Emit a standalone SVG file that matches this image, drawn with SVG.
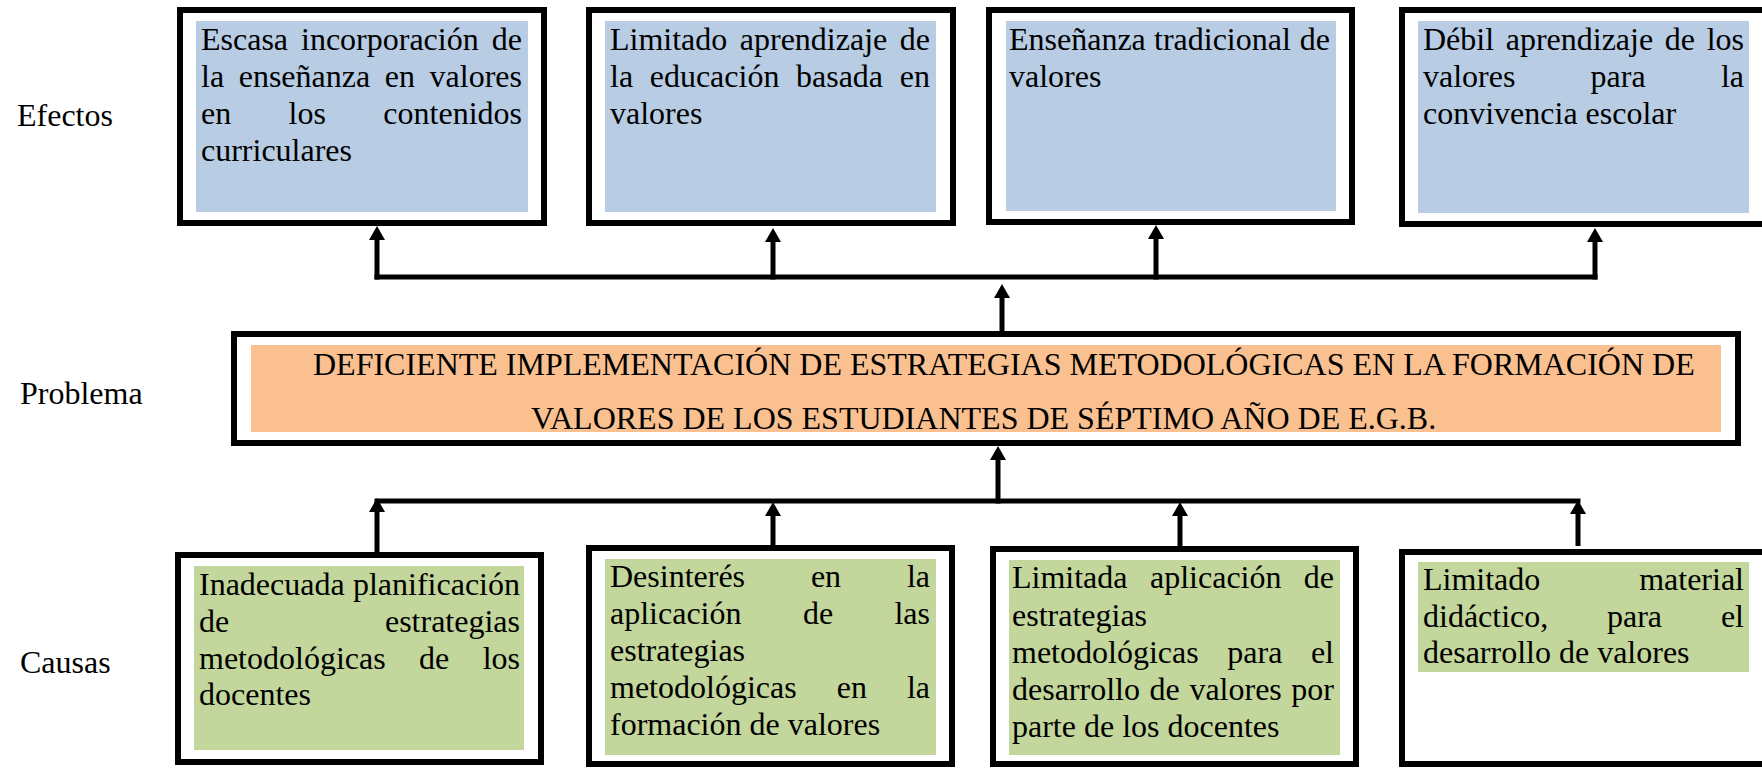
<svg xmlns="http://www.w3.org/2000/svg" width="1762" height="768" viewBox="0 0 1762 768">
<style>
text{font-family:"Liberation Serif","Times New Roman",serif;font-size:32px;fill:#000}
.e{text-anchor:end}
.box{fill:#fff;stroke:#000;stroke-width:6}
.blue{fill:#B8CCE4}
.orange{fill:#FAC090}
.green{fill:#C3D69B}
.con{fill:none;stroke:#000;stroke-width:5}
</style>
<defs>
<marker id="ah" markerUnits="userSpaceOnUse" markerWidth="14" markerHeight="16" viewBox="0 0 14 16" refX="0" refY="8" orient="auto">
<path d="M0,0 L14,8 L0,16 Z" fill="#000"/>
</marker>
</defs>
<rect width="1762" height="768" fill="#fff"/>

<g id="labels">
<text x="17" y="126">Efectos</text>
<text x="20" y="404">Problema</text>
<text x="20" y="673">Causas</text>
</g>

<g id="connectors">
<path class="con" d="M374.5,277 H1597.5"/>
<path class="con" d="M377,279.5 V240" marker-end="url(#ah)"/>
<path class="con" d="M773,279.5 V242" marker-end="url(#ah)"/>
<path class="con" d="M1156,279.5 V239" marker-end="url(#ah)"/>
<path class="con" d="M1595,279.5 V242" marker-end="url(#ah)"/>
<path class="con" d="M1002,331 V298" marker-end="url(#ah)"/>
<path class="con" d="M374.5,501 H1580.5"/>
<path class="con" d="M998,503.5 V460" marker-end="url(#ah)"/>
<path class="con" d="M377,552 V512" marker-end="url(#ah)"/>
<path class="con" d="M773,545 V516" marker-end="url(#ah)"/>
<path class="con" d="M1180,546 V516" marker-end="url(#ah)"/>
<path class="con" d="M1578,546 V514" marker-end="url(#ah)"/>
</g>

<g id="effect1">
<rect class="box" x="180" y="10" width="364" height="213"/>
<rect class="blue" x="196" y="21" width="332" height="191"/>
<text y="50"><tspan x="201">Escasa</tspan><tspan x="301">incorporación</tspan></text><text class="e" x="522" y="50">de</text>
<text y="87"><tspan x="201">la</tspan><tspan x="238.7">enseñanza</tspan><tspan x="384.8">en</tspan></text><text class="e" x="522" y="87">valores</text>
<text y="124"><tspan x="201">en</tspan><tspan x="288.6">los</tspan></text><text class="e" x="522" y="124">contenidos</text>
<text x="201" y="161">curriculares</text>
</g>

<g id="effect2">
<rect class="box" x="589" y="10" width="364" height="213"/>
<rect class="blue" x="605" y="21" width="331" height="191"/>
<text y="50"><tspan x="610">Limitado</tspan><tspan x="739.8">aprendizaje</tspan></text><text class="e" x="930" y="50">de</text>
<text y="87"><tspan x="610">la</tspan><tspan x="649.7">educación</tspan><tspan x="796">basada</tspan></text><text class="e" x="930" y="87">en</text>
<text x="610" y="124">valores</text>
</g>

<g id="effect3">
<rect class="box" x="989" y="10" width="363" height="212"/>
<rect class="blue" x="1006" y="21" width="330" height="190"/>
<text y="50"><tspan x="1009">Enseñanza</tspan><tspan x="1154">tradicional</tspan></text><text class="e" x="1330" y="50">de</text>
<text x="1009" y="87">valores</text>
</g>

<g id="effect4">
<rect class="box" x="1402" y="10" width="366" height="214"/>
<rect class="blue" x="1418" y="21" width="331" height="192"/>
<text y="50"><tspan x="1423">Débil</tspan><tspan x="1505.7">aprendizaje</tspan><tspan x="1664.8">de</tspan></text><text class="e" x="1744" y="50">los</text>
<text y="87"><tspan x="1423">valores</tspan><tspan x="1590.6">para</tspan></text><text class="e" x="1744" y="87">la</text>
<text x="1423" y="124">convivencia escolar</text>
</g>

<g id="problem">
<rect class="box" x="234" y="334" width="1504" height="109"/>
<rect class="orange" x="251" y="345" width="1470" height="87"/>
<text x="313" y="375">DEFICIENTE IMPLEMENTACIÓN DE ESTRATEGIAS METODOLÓGICAS EN LA FORMACIÓN DE</text>
<text x="531" y="429">VALORES DE LOS ESTUDIANTES DE SÉPTIMO AÑO DE E.G.B.</text>
</g>

<g id="cause1">
<rect class="box" x="178" y="555" width="363" height="207"/>
<rect class="green" x="194" y="566" width="330" height="184"/>
<text x="199" y="595">Inadecuada</text><text class="e" x="520" y="595">planificación</text>
<text x="199" y="632">de</text><text class="e" x="520" y="632">estrategias</text>
<text y="669"><tspan x="199">metodológicas</tspan><tspan x="419.1">de</tspan></text><text class="e" x="520" y="669">los</text>
<text x="199" y="705">docentes</text>
</g>

<g id="cause2">
<rect class="box" x="589" y="548" width="363" height="216"/>
<rect class="green" x="605" y="559" width="331" height="196"/>
<text y="587"><tspan x="610">Desinterés</tspan><tspan x="810.9">en</tspan></text><text class="e" x="930" y="587">la</text>
<text y="624"><tspan x="610">aplicación</tspan><tspan x="802.9">de</tspan></text><text class="e" x="930" y="624">las</text>
<text x="610" y="661">estrategias</text>
<text y="698"><tspan x="610">metodológicas</tspan><tspan x="836.7">en</tspan></text><text class="e" x="930" y="698">la</text>
<text x="610" y="735">formación de valores</text>
</g>

<g id="cause3">
<rect class="box" x="993" y="549" width="363" height="215"/>
<rect class="green" x="1009" y="560" width="331" height="195"/>
<text y="588"><tspan x="1012">Limitada</tspan><tspan x="1150">aplicación</tspan></text><text class="e" x="1334" y="588">de</text>
<text x="1012" y="626">estrategias</text>
<text y="663"><tspan x="1012">metodológicas</tspan><tspan x="1227.3">para</tspan></text><text class="e" x="1334" y="663">el</text>
<text y="700"><tspan x="1012">desarrollo</tspan><tspan x="1149.6">de</tspan><tspan x="1189.4">valores</tspan></text><text class="e" x="1334" y="700">por</text>
<text x="1012" y="737">parte de los docentes</text>
</g>

<g id="cause4">
<rect class="box" x="1402" y="552" width="366" height="212"/>
<rect class="green" x="1418" y="562" width="331" height="110"/>
<text x="1423" y="590">Limitado</text><text class="e" x="1744" y="590">material</text>
<text y="627"><tspan x="1423">didáctico,</tspan><tspan x="1607">para</tspan></text><text class="e" x="1744" y="627">el</text>
<text x="1423" y="663">desarrollo de valores</text>
</g>
</svg>
